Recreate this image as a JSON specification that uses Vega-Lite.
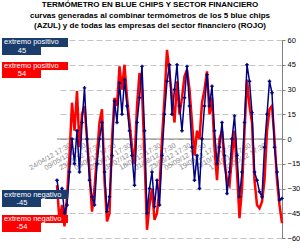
{
  "$schema": "https://vega.github.io/schema/vega-lite/v6.json",
  "width": 225,
  "height": 198,
  "autosize": {"type": "none"},
  "padding": {"left": 57, "top": 40, "right": 18, "bottom": 12},
  "background": "white",
  "config": {"view": {"stroke": null}, "font": "Liberation Sans"},
  "title": {
    "text": ["TERMÓMETRO EN BLUE CHIPS Y SECTOR FINANCIERO", "curvas generadas al combinar termómetros de los 5 blue chips", "(AZUL) y de todas las empresas del sector financiero (ROJO)"],
    "font": "Liberation Sans", "fontSize": 8, "fontWeight": "bold", "color": "black",
    "lineHeight": 10.5, "anchor": "middle", "offset": 6, "dx": -19.5
  },
  "datasets": {
    "azul": [
      {"t":0,"v":-25},{"t":1,"v":-35},{"t":2,"v":-30},{"t":3,"v":-45},{"t":4,"v":-40},{"t":5,"v":-20},{"t":6,"v":0},{"t":7,"v":-15},{"t":8,"v":5},{"t":9,"v":-20},
      {"t":10,"v":10},{"t":11,"v":31},{"t":12,"v":0},{"t":13,"v":-25},{"t":14,"v":-35},{"t":15,"v":-40},{"t":16,"v":-15},{"t":17,"v":0},{"t":18,"v":10},{"t":19,"v":-20},
      {"t":20,"v":-44},{"t":21,"v":-35},{"t":22,"v":-10},{"t":23,"v":23},{"t":24,"v":10},{"t":25,"v":34},{"t":26,"v":15},{"t":27,"v":36},{"t":28,"v":20},{"t":29,"v":5},
      {"t":30,"v":-10},{"t":31,"v":-28},{"t":32,"v":10},{"t":33,"v":25},{"t":34,"v":44},{"t":35,"v":5},{"t":36,"v":-45},{"t":37,"v":-30},{"t":38,"v":-20},{"t":39,"v":-41},
      {"t":40,"v":-25},{"t":41,"v":-40},{"t":42,"v":-10},{"t":43,"v":15},{"t":44,"v":35},{"t":45,"v":45},{"t":46,"v":15},{"t":47,"v":30},{"t":48,"v":45},{"t":49,"v":20},
      {"t":50,"v":5},{"t":51,"v":25},{"t":52,"v":44},{"t":53,"v":20},{"t":54,"v":-5},{"t":55,"v":-25},{"t":56,"v":-10},{"t":57,"v":-30},{"t":58,"v":0},{"t":59,"v":20},
      {"t":60,"v":39},{"t":61,"v":20},{"t":62,"v":32},{"t":63,"v":5},{"t":64,"v":-15},{"t":65,"v":-5},{"t":66,"v":10},{"t":67,"v":-10},{"t":68,"v":-33},{"t":69,"v":-20},
      {"t":70,"v":0},{"t":71,"v":14},{"t":72,"v":-10},{"t":73,"v":-35},{"t":74,"v":-20},{"t":75,"v":10},{"t":76,"v":45},{"t":77,"v":35},{"t":78,"v":16},{"t":79,"v":-20},
      {"t":80,"v":-25},{"t":81,"v":-32},{"t":82,"v":-35},{"t":83,"v":-5},{"t":84,"v":15},{"t":85,"v":35},{"t":86,"v":28},{"t":87,"v":-5},{"t":88,"v":-20},{"t":89,"v":-37},{"t":90,"v":-36}
    ],
    "rojo": [
      {"t":0,"v":-28},{"t":1,"v":-50},{"t":2,"v":-40},{"t":3,"v":-53},{"t":4,"v":-35},{"t":5,"v":-10},{"t":6,"v":22},{"t":7,"v":5},{"t":8,"v":29},{"t":9,"v":-5},
      {"t":10,"v":15},{"t":11,"v":20},{"t":12,"v":0},{"t":13,"v":-20},{"t":14,"v":-44},{"t":15,"v":-30},{"t":16,"v":-10},{"t":17,"v":10},{"t":18,"v":18},{"t":19,"v":-25},
      {"t":20,"v":-50},{"t":21,"v":-45},{"t":22,"v":0},{"t":23,"v":25},{"t":24,"v":20},{"t":25,"v":44},{"t":26,"v":30},{"t":27,"v":45},{"t":28,"v":25},{"t":29,"v":10},
      {"t":30,"v":-5},{"t":31,"v":-15},{"t":32,"v":20},{"t":33,"v":40},{"t":34,"v":30},{"t":35,"v":-10},{"t":36,"v":-55},{"t":37,"v":-40},{"t":38,"v":-30},{"t":39,"v":-49},
      {"t":40,"v":-45},{"t":41,"v":-30},{"t":42,"v":0},{"t":43,"v":25},{"t":44,"v":54},{"t":45,"v":40},{"t":46,"v":25},{"t":47,"v":10},{"t":48,"v":35},{"t":49,"v":15},
      {"t":50,"v":25},{"t":51,"v":38},{"t":52,"v":42},{"t":53,"v":30},{"t":54,"v":10},{"t":55,"v":-10},{"t":56,"v":5},{"t":57,"v":0},{"t":58,"v":22},{"t":59,"v":30},
      {"t":60,"v":41},{"t":61,"v":15},{"t":62,"v":25},{"t":63,"v":-5},{"t":64,"v":-25},{"t":65,"v":0},{"t":66,"v":5},{"t":67,"v":-15},{"t":68,"v":-25},{"t":69,"v":-28},
      {"t":70,"v":-10},{"t":71,"v":5},{"t":72,"v":-20},{"t":73,"v":-48},{"t":74,"v":-30},{"t":75,"v":5},{"t":76,"v":36},{"t":77,"v":20},{"t":78,"v":10},{"t":79,"v":-25},
      {"t":80,"v":-40},{"t":81,"v":-42},{"t":82,"v":-38},{"t":83,"v":-25},{"t":84,"v":5},{"t":85,"v":18},{"t":86,"v":20},{"t":87,"v":0},{"t":88,"v":-25},{"t":89,"v":-40},{"t":90,"v":-51}
    ],
    "fechas": [
      {"t":4,"v":0,"f":"24/04/12 17:30"},{"t":10,"v":0,"f":"09/05/12 17:30"},{"t":16,"v":0,"f":"23/05/12 17:30"},
      {"t":22,"v":0,"f":"06/06/12 17:30"},{"t":28,"v":0,"f":"20/06/12 17:30"},{"t":34,"v":0,"f":"04/07/12 17:30"},
      {"t":40,"v":0,"f":"18/07/12 17:30"},{"t":46,"v":0,"f":"01/08/12 17:30"},{"t":52,"v":0,"f":"23/08/12 17:30"},
      {"t":58,"v":0,"f":"05/09/12 17:30"},{"t":64,"v":0,"f":"19/09/12 17:30"},{"t":70,"v":0,"f":"03/10/12 17:30"},
      {"t":76,"v":0,"f":"17/10/12 17:30"},{"t":82,"v":0,"f":"31/10/12 17:30"}
    ],
    "cajas": [
      {"t":-22,"t2":4.4,"v":61.2,"v2":55.8,"g":"azul"},
      {"t":-22,"t2":-6.4,"v":55.8,"v2":50.9,"g":"azul"},
      {"t":-22,"t2":4.4,"v":46.7,"v2":41.8,"g":"rojo"},
      {"t":-22,"t2":-6.4,"v":41.8,"v2":37,"g":"rojo"},
      {"t":-22,"t2":4.4,"v":-30.9,"v2":-36.4,"g":"azul"},
      {"t":-22,"t2":-6.4,"v":-36.4,"v2":-41.2,"g":"azul"},
      {"t":-22,"t2":4.4,"v":-46.1,"v2":-50.9,"g":"rojo"},
      {"t":-22,"t2":-6.4,"v":-50.9,"v2":-56.4,"g":"rojo"}
    ],
    "nombres": [
      {"t":-21.2,"v":58.5,"n":"extremo positivo"},
      {"t":-21.2,"v":44.2,"n":"extremo positivo"},
      {"t":-21.2,"v":-33.7,"n":"extremo negativo"},
      {"t":-21.2,"v":-48.5,"n":"extremo negativo"}
    ],
    "valores": [
      {"t":-14,"v":53.3,"n":"45"},
      {"t":-14,"v":39.4,"n":"54"},
      {"t":-14,"v":-38.8,"n":"-45"},
      {"t":-14,"v":-53.6,"n":"-54"}
    ]
  },
  "encoding": {
    "x": {"field": "t", "type": "quantitative", "scale": {"domain": [0, 90]}, "axis": null},
    "y": {
      "field": "v", "type": "quantitative",
      "scale": {"domain": [-60, 60], "nice": false, "zero": false},
      "axis": {
        "orient": "right", "title": null,
        "values": [-60, -45, -30, -15, 0, 15, 30, 45, 60],
        "grid": true, "gridColor": "#C4C4C4", "gridDash": [6, 3], "gridWidth": 1,
        "domainColor": "#808080", "tickColor": "#808080", "tickSize": 3,
        "labelFont": "Liberation Sans", "labelFontSize": 7.5, "labelColor": "black", "labelPadding": 2
      }
    }
  },
  "layer": [
    {
      "data": {"values": [{"t": 0, "t2": 90, "v": 0}]},
      "mark": {"type": "rule", "color": "#808080", "strokeWidth": 1},
      "encoding": {"x2": {"field": "t2"}}
    },
    {
      "data": {"name": "fechas"},
      "mark": {"type": "text", "angle": -30, "align": "right", "baseline": "top", "dy": 3, "fontSize": 7, "color": "#8C8C8C", "font": "Liberation Sans"},
      "encoding": {"text": {"field": "f"}}
    },
    {
      "data": {"name": "rojo"},
      "mark": {"type": "line", "color": "#FF0000", "strokeWidth": 2.5},
      "encoding": {}
    },
    {
      "data": {"name": "azul"},
      "mark": {"type": "line", "color": "#000080", "strokeWidth": 1.5, "point": {"shape": "cross", "size": 12, "color": "#000080", "filled": true}},
      "encoding": {}
    },
    {
      "data": {"name": "cajas"},
      "mark": {"type": "rect"},
      "encoding": {
        "x2": {"field": "t2"}, "y2": {"field": "v2"},
        "color": {"field": "g", "type": "nominal", "scale": {"domain": ["azul", "rojo"], "range": ["#1B3D6D", "#FF0000"]}, "legend": null}
      }
    },
    {
      "data": {"name": "nombres"},
      "mark": {"type": "text", "align": "left", "baseline": "middle", "fontSize": 7.5, "color": "white", "font": "Liberation Sans"},
      "encoding": {"text": {"field": "n"}}
    },
    {
      "data": {"name": "valores"},
      "mark": {"type": "text", "align": "center", "baseline": "middle", "fontSize": 7.5, "color": "white", "font": "Liberation Sans"},
      "encoding": {"text": {"field": "n"}}
    }
  ]
}
